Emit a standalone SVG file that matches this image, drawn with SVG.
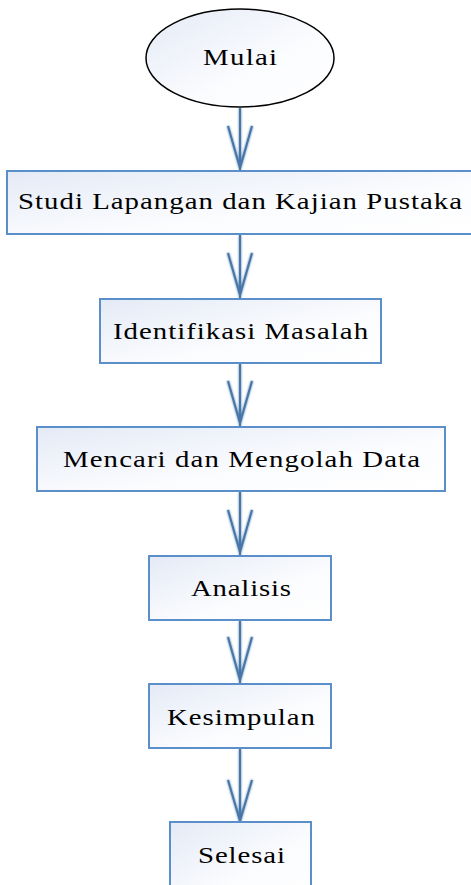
<svg xmlns="http://www.w3.org/2000/svg" width="471" height="885" viewBox="0 0 471 885">
<defs>
<linearGradient id="g" x1="0" y1="0" x2="1" y2="1">
<stop offset="0" stop-color="#e4eaf6"/>
<stop offset="0.6" stop-color="#fbfcfe"/>
<stop offset="1" stop-color="#ffffff"/>
</linearGradient>
<filter id="glow" x="-50%" y="-10%" width="200%" height="120%">
<feGaussianBlur in="SourceGraphic" stdDeviation="1.2" result="b"/>
<feMerge><feMergeNode in="b"/><feMergeNode in="SourceGraphic"/></feMerge>
</filter>
</defs>
<style>
.box{fill:url(#g);stroke:#5b8fc9;stroke-width:2}
.oval{fill:url(#g);stroke:#000;stroke-width:1.5}
.t{font-family:"Liberation Serif","Times New Roman",serif;font-size:24px;fill:#000}
.c{fill:none;stroke:#4676a8;stroke-width:2}
</style>
<g id="connectors" filter="url(#glow)">
<path class="c" d="M240 108V170M228 126L240 168L252 126"/>
<path class="c" d="M240 235V298M228 253L240 295L252 253"/>
<path class="c" d="M240 364V426M228 381L240 423L252 381"/>
<path class="c" d="M240 492V555M228 510L240 552L252 510"/>
<path class="c" d="M240 621V683M228 637L240 680L252 637"/>
<path class="c" d="M240 749V821M228 780L240 821L252 780"/>
</g>
<g id="mulai">
<ellipse class="oval" cx="240" cy="58" rx="94" ry="49"/>
<text class="t" transform="matrix(1.2 0 0 1 0 0)" x="169.2" y="65" textLength="61.7" lengthAdjust="spacing">Mulai</text>
</g>
<g id="studi">
<rect class="box" x="7" y="171" width="470" height="63"/>
<text class="t" transform="matrix(1.2 0 0 1 0 0)" x="15" y="209" textLength="370" lengthAdjust="spacing">Studi Lapangan dan Kajian Pustaka</text>
</g>
<g id="identifikasi">
<rect class="box" x="100" y="299" width="281" height="64"/>
<text class="t" transform="matrix(1.2 0 0 1 0 0)" x="94.2" y="339" textLength="212.5" lengthAdjust="spacing">Identifikasi Masalah</text>
</g>
<g id="mencari">
<rect class="box" x="37" y="427" width="408" height="64"/>
<text class="t" transform="matrix(1.2 0 0 1 0 0)" x="52.5" y="467" textLength="297.5" lengthAdjust="spacing">Mencari dan Mengolah Data</text>
</g>
<g id="analisis">
<rect class="box" x="149" y="556" width="182" height="64"/>
<text class="t" transform="matrix(1.2 0 0 1 0 0)" x="159.2" y="596" textLength="83.3" lengthAdjust="spacing">Analisis</text>
</g>
<g id="kesimpulan">
<rect class="box" x="149" y="684" width="182" height="64"/>
<text class="t" transform="matrix(1.2 0 0 1 0 0)" x="139.2" y="725" textLength="123.3" lengthAdjust="spacing">Kesimpulan</text>
</g>
<g id="selesai">
<rect class="box" x="170" y="822" width="141" height="80"/>
<text class="t" transform="matrix(1.2 0 0 1 0 0)" x="165" y="863" textLength="72.5" lengthAdjust="spacing">Selesai</text>
</g>
</svg>
